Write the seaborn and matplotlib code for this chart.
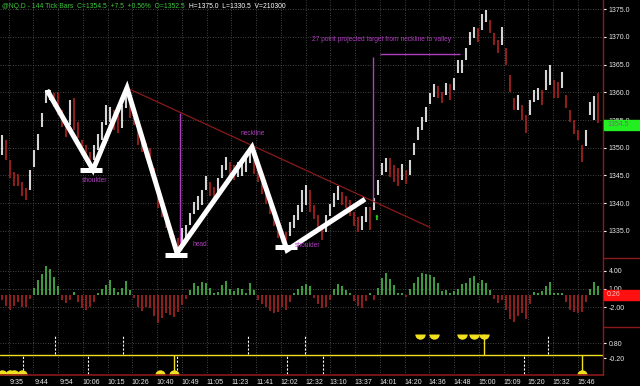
import matplotlib
matplotlib.use("Agg")
import numpy as np
import pandas as pd
import matplotlib.pyplot as plt
import seaborn as sns
from matplotlib.lines import Line2D

# dark trading-platform look
sns.set_theme(style="dark", rc={
    "figure.facecolor": "black", "axes.facecolor": "black",
    "axes.edgecolor": "black", "text.color": "white",
    "xtick.color": "white", "ytick.color": "white"})
plt.rcParams["font.family"] = ["Liberation Sans", "DejaVu Sans"]

# ---- data ----
highs = [1352.3, 1351.4, 1347.8, 1345.6, 1345.3, 1343.8, 1342.7, 1346.0, 1349.6, 1352.5,
         1356.2, 1360.4, 1360.4, 1359.9, 1360.0, 1356.8, 1355.0, 1358.6, 1358.9, 1354.6,
         1351.4, 1350.5, 1349.2, 1350.5, 1352.5, 1354.6, 1357.7, 1357.3, 1356.8, 1355.9,
         1357.7, 1360.4, 1358.6, 1356.4, 1354.1, 1351.7, 1350.8, 1349.9, 1346.3, 1342.4,
         1339.6, 1337.8, 1336.0, 1334.2, 1333.7, 1335.5, 1336.0, 1338.2, 1340.2, 1341.3,
         1342.4, 1344.9, 1343.8, 1342.9, 1344.6, 1346.9, 1348.3, 1347.4, 1346.9, 1347.4,
         1348.1, 1348.7, 1349.6, 1347.8, 1346.3, 1343.6, 1341.8, 1340.2, 1337.8, 1335.8,
         1334.7, 1334.7, 1336.5, 1337.8, 1339.6, 1342.4, 1343.3, 1342.4, 1339.6, 1337.8,
         1336.0, 1337.8, 1339.8, 1341.8, 1343.1, 1342.0, 1341.3, 1340.6, 1338.4, 1337.4,
         1337.6, 1339.3, 1339.3, 1340.9, 1344.2, 1347.2, 1348.1, 1348.1, 1346.9, 1346.3,
         1347.1, 1346.0, 1347.8, 1350.8, 1353.7, 1355.5, 1357.3, 1359.9, 1361.5, 1361.1,
         1360.0, 1361.7, 1361.5, 1362.6, 1365.8, 1365.8, 1368.0, 1370.9, 1371.8, 1371.6,
         1374.2, 1374.9, 1373.1, 1370.7, 1369.5, 1371.8, 1368.0, 1363.1, 1358.9, 1359.5,
         1357.7, 1355.9, 1358.6, 1360.4, 1360.8, 1360.4, 1364.0, 1364.9, 1362.2, 1361.9,
         1363.6, 1359.5, 1356.8, 1355.0, 1353.2, 1350.5, 1353.2, 1358.3, 1359.4, 1359.8]
lows = [1348.7, 1347.8, 1344.6, 1343.1, 1343.1, 1341.3, 1340.6, 1342.4, 1346.5, 1349.6,
        1353.7, 1358.1, 1358.6, 1357.3, 1355.9, 1353.7, 1351.9, 1354.1, 1353.2, 1351.7,
        1348.7, 1348.1, 1347.2, 1347.8, 1349.6, 1351.4, 1354.1, 1354.6, 1353.2, 1352.7,
        1353.6, 1357.1, 1355.4, 1354.1, 1350.5, 1349.2, 1348.1, 1346.9, 1343.8, 1339.1,
        1337.4, 1335.5, 1333.7, 1332.0, 1331.1, 1332.4, 1333.7, 1336.0, 1338.0, 1338.7,
        1339.6, 1342.4, 1341.3, 1340.9, 1342.0, 1344.6, 1346.0, 1344.6, 1344.2, 1344.7,
        1344.9, 1345.6, 1347.2, 1345.3, 1343.8, 1341.6, 1339.8, 1338.0, 1335.8, 1333.7,
        1332.9, 1332.4, 1334.0, 1335.5, 1336.9, 1338.4, 1339.6, 1338.4, 1337.2, 1334.7,
        1333.3, 1334.7, 1337.6, 1339.3, 1340.6, 1339.6, 1339.1, 1337.6, 1335.8, 1334.7,
        1335.1, 1336.5, 1335.1, 1338.7, 1341.5, 1345.1, 1345.6, 1344.7, 1343.8, 1343.1,
        1344.2, 1343.4, 1345.1, 1348.7, 1351.4, 1353.2, 1354.6, 1357.9, 1359.2, 1358.9,
        1358.1, 1359.5, 1358.6, 1360.4, 1363.5, 1363.5, 1365.8, 1368.6, 1369.8, 1369.1,
        1371.3, 1372.7, 1370.7, 1368.6, 1367.1, 1368.6, 1364.9, 1360.0, 1356.8, 1356.8,
        1355.0, 1352.7, 1355.9, 1358.2, 1358.6, 1357.7, 1360.4, 1361.3, 1358.9, 1358.9,
        1360.8, 1357.1, 1354.6, 1352.5, 1351.4, 1347.5, 1350.3, 1355.9, 1355.0, 1354.5]

osc = [-0.8, -1.8, -2.4, -1.8, -1.2, -1.9, -2.0, -0.6, 1.2, 2.5,
       3.5, 4.7, 4.3, 3.0, 1.5, -0.8, -1.3, -0.9, 0.5, -1.2,
       -2.1, -2.4, -2.0, -1.2, 0.4, 1.0, 1.6, 2.4, 1.2, 0.5,
       1.2, 2.3, 0.8, -0.5, -2.0, -2.6, -2.0, -2.2, -3.5, -4.6,
       -3.8, -3.0, -3.2, -3.6, -2.8, -1.6, -0.6, 0.8, 2.0, 1.5,
       2.1, 2.0, 1.2, 0.4, 0.5, 1.6, 2.3, 1.0, 0.6, 1.2,
       1.0, 0.3, 2.0, 0.8, -0.8, -1.5, -2.0, -2.6, -3.0, -2.8,
       -2.0, -2.4, -1.2, 0.4, 1.0, 1.5, 1.8, 1.5, -0.5, -1.5,
       -2.2, -2.0, -0.8, 1.0, 1.8, 1.5, 0.8, 0.4, -1.0, -1.8,
       -2.1, -1.0, 0.3, -0.8, 1.2, 2.8, 3.6, 2.6, 1.6, 0.3,
       0.3, -0.4, 1.0, 2.0, 3.0, 3.6, 3.4, 3.2, 3.0, 2.0,
       0.6, 0.8, 0.4, 0.6, 1.0, 1.8, 2.0, 2.8, 3.1, 2.0,
       2.4, 2.0, 0.8, -0.6, -1.3, -0.8, -2.5, -4.0, -4.5, -3.4,
       -3.0, -4.0, -1.5, 0.5, 0.3, 0.6, 1.5, 2.1, 0.4, 0.3,
       0.3, -1.2, -2.4, -2.8, -3.0, -2.8, -1.2, 1.0, 2.1, 1.5]

time_labels = ["9:35", "9:44", "9:54", "10:06", "10:15", "10:26", "10:40", "10:49",
               "11:05", "11:23", "11:41", "12:02", "12:32", "13:10", "13:37", "14:01",
               "14:20", "14:36", "14:48", "15:00", "15:09", "15:20", "15:32", "15:46"]
price_ticks = [1335, 1340, 1345, 1350, 1355, 1360, 1365, 1370, 1375]
osc_ticks = [4.0, 1.0, -2.0]
sig_ticks = [0.8, -0.2]

# head & shoulders drawing (bar index, price)
pattern_idx = [11.25, 22.75, 31.25, 43.75, 62.5, 71.25, 90.75]
pattern_price = [1360.4, 1346.0, 1360.8, 1331.0, 1350.1, 1331.5, 1340.7]
base_left = [19.5, 40.75, 68.25]
base_right = [25.0, 46.25, 73.75]
base_price = [1346.0, 1330.6, 1332.1]
neck_idx = [31.25, 107.0]
neck_price = [1360.8, 1335.6]

# signal panel
top_dots = [104.5, 108.0, 115.0, 118.0, 120.5]
bottom_dots = [0.0, 2.0, 3.0, 5.0, 39.5, 43.0, 145.0]
top_stems = [120.5]
bottom_stems = [43.0, 145.0]
top_marks = [13.25, 30.25, 61.5, 75.75, 136.5]
bottom_marks = [5.25, 21.5, 43.75, 71.25, 80.25, 130.5]

bars = pd.DataFrame({"high": highs, "low": lows, "osc": osc})
bars["idx"] = np.arange(len(bars))
bars["mid"] = (bars["high"] + bars["low"]) / 2
bars["up"] = bars["mid"].diff().fillna(0) >= 0

W, H = 640, 386
fig = plt.figure(figsize=(W / 100, H / 100), dpi=100)
rx = 603 / W


def box(top, bottom):
    return [0, 1 - bottom / H, rx, (bottom - top) / H]


ax = fig.add_axes(box(0, 258))
axh = fig.add_axes(box(258, 327))
axs = fig.add_axes(box(327, 375))

xlim = (-0.5, 150.25)
grid_pos = [(8.5 + 24.75 * k - 2) / 4 for k in range(25)]
label_pos = [(17 + 24.75 * k - 2) / 4 for k in range(len(time_labels))]
grid_kw = dict(color="#5a5a5a", lw=0.6, ls=(0, (1, 2)), zorder=0)

for a in (ax, axh, axs):
    a.set_xlim(*xlim)
    a.set_facecolor("black")
    for s in a.spines.values():
        s.set_visible(False)
    for g in grid_pos:
        a.axvline(g, **grid_kw)
    a.yaxis.tick_right()
    a.tick_params(axis="y", labelsize=5, length=2.5, width=0.8, color="white",
                  pad=1.5, labelcolor="#e8e8e8")
    a.tick_params(axis="x", length=0)
    a.set_xticks([])
    a.set_xlabel("")
    a.set_ylabel("")

# ---- main price panel ----
ax.set_ylim(1330.07, 1376.68)
ax.set_yticks(price_ticks)
ax.set_yticklabels([f"{v:.1f}" for v in price_ticks])
for p in price_ticks:
    ax.axhline(p, **grid_kw)
cols = np.where(bars["up"], "#d4d4d4", "#8e1d1d")
ax.vlines(bars["idx"], bars["low"], bars["high"], colors=cols, lw=1.5, zorder=2)

ax.plot(neck_idx, neck_price, color="#8b1a1a", lw=0.9, zorder=3)
ax.plot(pattern_idx, pattern_price, color="white", lw=3.6, zorder=4,
        solid_capstyle="butt", solid_joinstyle="miter")
ax.hlines(base_price, base_left, base_right, color="white", lw=3.6, zorder=4)

purple = "#b03cc0"
ax.vlines([44.5, 92.75], [1332.8, 1340.6], [1356.3, 1366.4], color=purple, lw=1.0, zorder=3)
ax.hlines(1366.9, 94.5, 114.5, color=purple, lw=1.0, zorder=3)
txt = dict(color=purple, fontsize=4.8, ha="center", va="center", zorder=5)
ax.text(23.25, 1344.0, "shoulder", **txt)
ax.text(49.5, 1332.5, "head", **txt)
ax.text(62.75, 1352.6, "neckline", **txt)
ax.text(76.5, 1332.3, "shoulder", **txt)
ax.text(95.0, 1369.6, "27 point projected target from neckline to valley", **txt)
ax.text(93.75, 1337.3, "\u2b06", color="#20e020", fontsize=5, ha="center", va="center",
        family=["DejaVu Sans"], zorder=5)

# ---- oscillator histogram ----
axh.set_ylim(-5.25, 6.07)
axh.set_yticks(osc_ticks)
axh.set_yticklabels([f"{v:.2f}" for v in osc_ticks])
for v in osc_ticks:
    axh.axhline(v, **grid_kw)
hcols = np.where(bars["osc"] >= 0, "#3f9a3f", "#8e1d1d")
axh.bar(bars["idx"], bars["osc"], width=0.62, color=hcols, linewidth=0, zorder=2)

# ---- signal panel ----
axs.set_ylim(-1.33, 1.87)
axs.set_yticks(sig_ticks)
axs.set_yticklabels([f"{v:.2f}" for v in sig_ticks])
axs.axhline(0.8, **grid_kw)
axs.axhline(0.0, color="#f0e020", lw=1.0, zorder=2)
axs.vlines(top_marks, 0.1, 1.35, color="white", lw=0.8, ls=(0, (2, 1.5)), zorder=3)
axs.vlines(bottom_marks, -1.25, 0.0, color="white", lw=0.8, ls=(0, (2, 1.5)), zorder=3)
axs.vlines(top_stems, 0.0, 1.4, color="#f0e020", lw=1.0, zorder=3)
axs.vlines(bottom_stems, -1.33, 0.0, color="#f0e020", lw=1.0, zorder=3)
axs.plot(top_dots, [1.4] * len(top_dots), ls="none", marker="o", ms=7.5,
         fillstyle="bottom", markerfacecoloralt="none", color="#f0e020", mew=0, zorder=4)
axs.plot(bottom_dots, [-1.33] * len(bottom_dots), ls="none", marker="o", ms=7.5,
         fillstyle="top", markerfacecoloralt="none", color="#f0e020", mew=0, zorder=4,
         clip_on=False)
axs.set_xticks(label_pos)
axs.set_xticklabels(time_labels, fontsize=5, color="#e8e8e8")
axs.tick_params(axis="x", length=0, pad=3)

# ---- frame lines, value boxes, title ----
red = "#8b1a1a"
fig.add_artist(Line2D([rx, rx], [1 - 375 / H, 1], color=red, lw=1.0))
fig.add_artist(Line2D([0, rx], [1 - 375 / H] * 2, color=red, lw=1.2))
for yy in (258, 327):
    fig.add_artist(Line2D([rx, 1], [1 - yy / H] * 2, color=red, lw=1.0))

fig.patches.append(plt.Rectangle((604 / W, 1 - 130 / H), 36 / W, 10 / H,
                                 transform=fig.transFigure, color="#22ee22", zorder=5))
fig.text(607 / W, 1 - 125 / H, f"{1354.5:.1f}", fontsize=5, color="#707070",
         va="center", zorder=6)
fig.patches.append(plt.Rectangle((604 / W, 1 - 300 / H), 36 / W, 10 / H,
                                 transform=fig.transFigure, color="#ff1010", zorder=5))
fig.text(607 / W, 1 - 295 / H, "0.26", fontsize=5, color="#ffc0c0",
         va="center", zorder=6)

green_title = fig.text(2 / W, 1 - 6 / H,
                       "@NQ.D - 144 Tick Bars  C=1354.5  +7.5  +0.56%  O=1352.5",
                       fontsize=4.9, color="#3cc83c", va="center")
ax.annotate("H=1375.0  L=1330.5  V=210300", xy=(1, 0.5), xycoords=green_title,
            xytext=(3, 0), textcoords="offset points", fontsize=4.9, color="white",
            va="center", ha="left", annotation_clip=False)

fig.savefig("out.png", dpi=100, facecolor="black")
